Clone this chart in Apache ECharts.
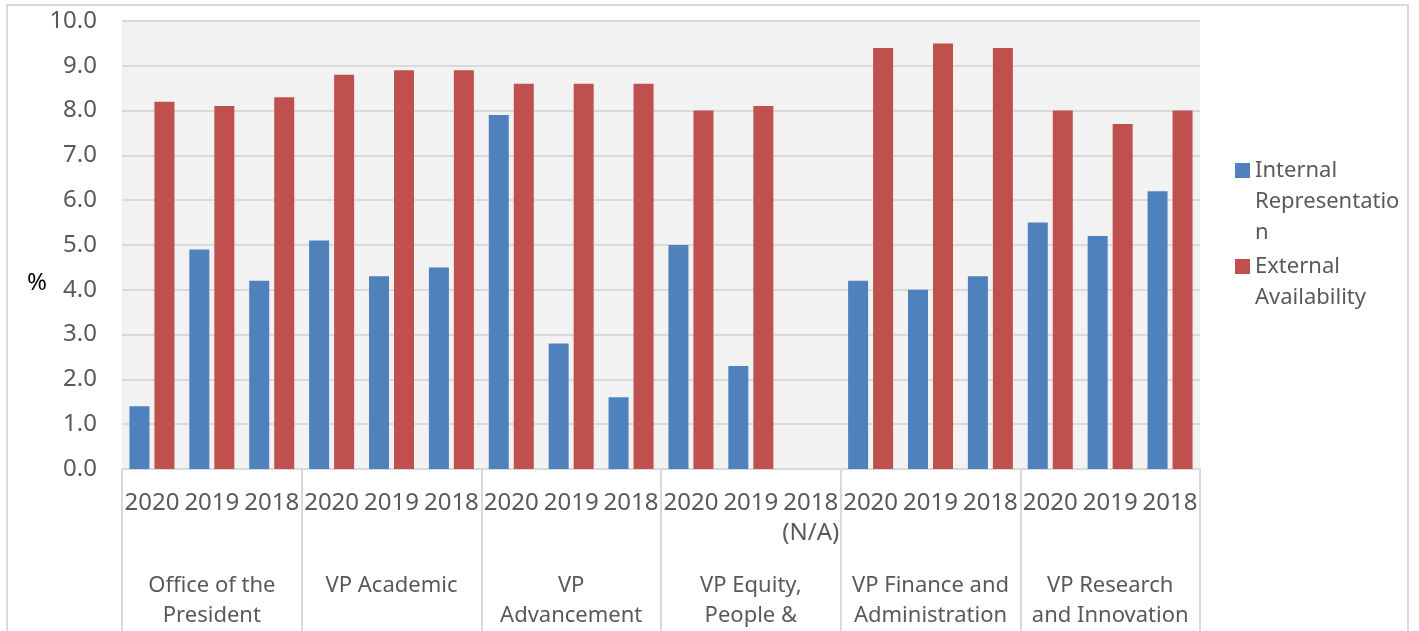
<!DOCTYPE html>
<html>
<head>
<meta charset="utf-8">
<script src="https://cdn.jsdelivr.net/npm/echarts@6/dist/echarts.min.js"></script>
<style>
  html, body { margin: 0; padding: 0; background: #fff; }
  #chart { width: 1419px; height: 631px; }
</style>
</head>
<body>
<div id="chart"></div>
<script>
const groups = ['Office of the\nPresident', 'VP Academic', 'VP\nAdvancement', 'VP Equity,\nPeople &', 'VP Finance and\nAdministration', 'VP Research\nand Innovation']
const yearLabels = [
  '2020', '2019', '2018',
  '2020', '2019', '2018',
  '2020', '2019', '2018',
  '2020', '2019', '2018\n(N/A)',
  '2020', '2019', '2018',
  '2020', '2019', '2018'
]
const internalRep = [1.4, 4.9, 4.2, 5.1, 4.3, 4.5, 7.9, 2.8, 1.6, 5.0, 2.3, null, 4.2, 4.0, 4.3, 5.5, 5.2, 6.2]
const externalAvail = [8.2, 8.1, 8.3, 8.8, 8.9, 8.9, 8.6, 8.6, 8.6, 8.0, 8.1, null, 9.4, 9.5, 9.4, 8.0, 7.7, 8.0]
const yTicks = { min: 0, max: 10, interval: 1 }

const GRID = '#d9d9d9'
const TEXT = '#595959'
const FONT = '"Noto Sans", sans-serif'

const chart = echarts.init(document.getElementById('chart'), null, { renderer: 'canvas' })

// legend icon sits at the middle of the text block, so leading blank lines
// keep it level with the first word like the original
const legendText = {
  'Internal Representation': '\n\nInternal\nRepresentatio\nn',
  'External Availability': '\nExternal\nAvailability'
}
const legendBase = {
  orient: 'vertical', left: 1230,
  itemWidth: 15, itemHeight: 15, icon: 'rect',
  formatter: name => legendText[name],
  textStyle: { fontFamily: FONT, fontSize: 22, color: TEXT, lineHeight: 31 }
}

chart.setOption({
  animation: false,
  textStyle: { fontFamily: FONT, color: TEXT },
  title: {
    text: '%', left: 22, top: 266,
    textStyle: { fontFamily: FONT, fontSize: 24, fontWeight: 'normal', color: '#000' }
  },
  graphic: [{
    type: 'rect',
    silent: true,
    shape: { x: 7, y: 5, width: 1401, height: 700 },
    style: { fill: 'none', stroke: GRID, lineWidth: 2 }
  }],
  grid: {
    left: 122, right: 219, top: 21, bottom: 161,
    show: true, backgroundColor: '#f2f2f2', borderWidth: 0
  },
  legend: [
    { ...legendBase, data: ['Internal Representation'], top: 88 },
    { ...legendBase, data: ['External Availability'], top: 215 }
  ],
  xAxis: [{
    type: 'category',
    data: yearLabels,
    axisLine: { lineStyle: { color: GRID, width: 2 } },
    axisTick: { show: false },
    axisLabel: { interval: 0, margin: 19, fontSize: 24, lineHeight: 30, color: TEXT, fontFamily: FONT }
  }, {
    type: 'category',
    data: groups,
    position: 'bottom',
    axisLine: { show: false },
    axisTick: { show: true, length: 170, interval: 0, lineStyle: { color: GRID, width: 2 } },
    axisLabel: { interval: 0, margin: 102, fontSize: 22, lineHeight: 30, color: TEXT, fontFamily: FONT }
  }],
  yAxis: {
    type: 'value',
    ...yTicks,
    axisLine: { show: false },
    axisTick: { show: false },
    axisLabel: { margin: 25, fontSize: 24, color: TEXT, formatter: v => v.toFixed(1) },
    splitLine: { lineStyle: { color: GRID, width: 2 } }
  },
  series: [{
    name: 'Internal Representation',
    type: 'bar',
    data: internalRep,
    barWidth: 20,
    barGap: '25%',
    itemStyle: { color: '#4f81bd' }
  }, {
    name: 'External Availability',
    type: 'bar',
    data: externalAvail,
    barWidth: 20,
    itemStyle: { color: '#c0504d' }
  }]
})

window.addEventListener('resize', () => chart.resize())
</script>
</body>
</html>
